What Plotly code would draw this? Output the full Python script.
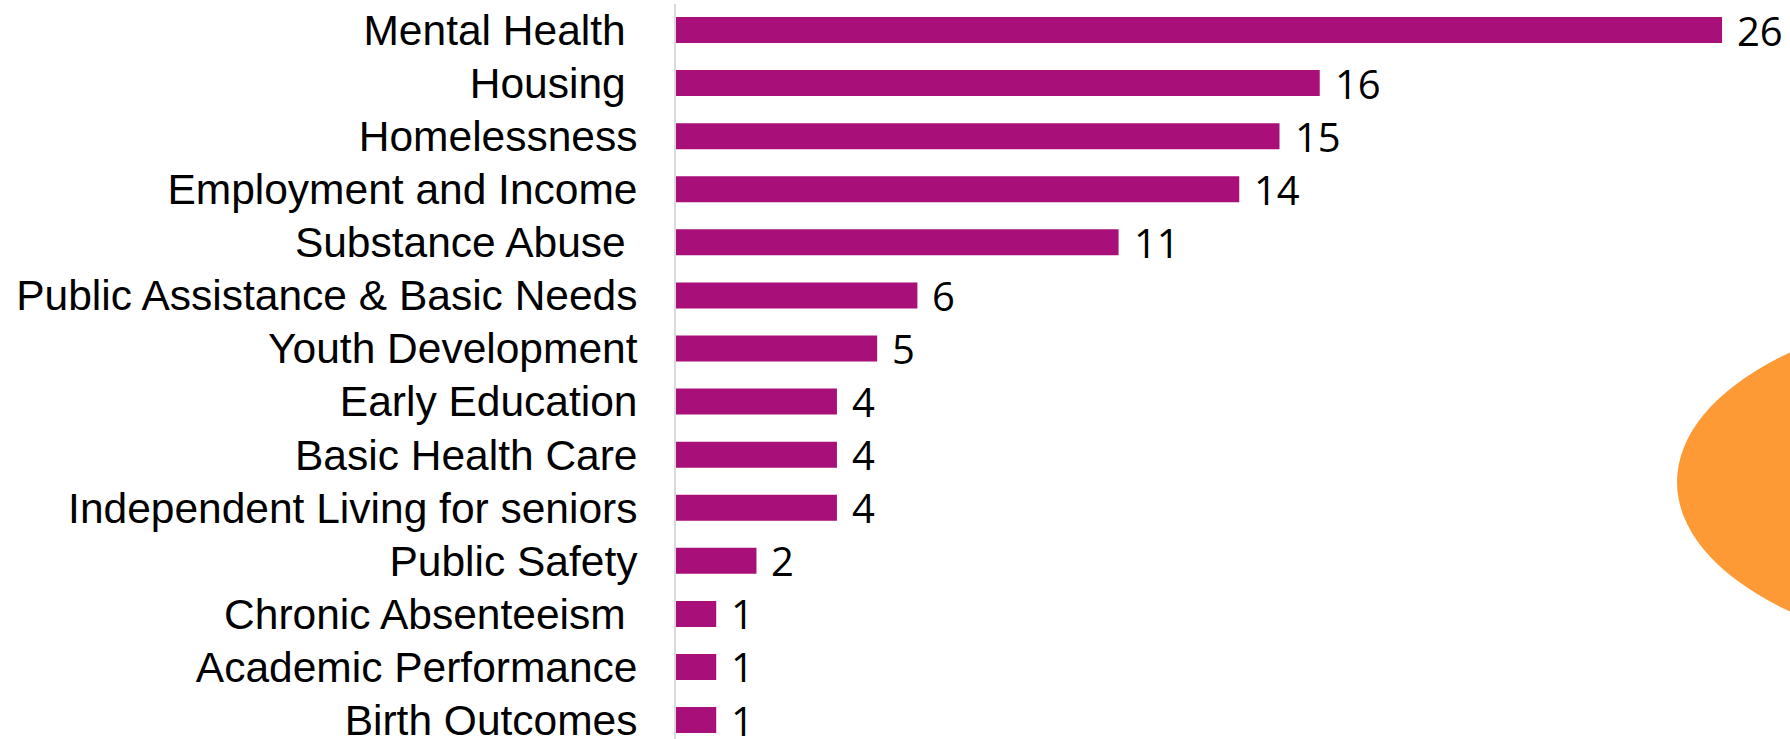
import plotly.graph_objects as go

# Categories (top to bottom) and their counts
categories = [
    "Mental Health ",
    "Housing ",
    "Homelessness",
    "Employment and Income",
    "Substance Abuse ",
    "Public Assistance & Basic Needs",
    "Youth Development",
    "Early Education",
    "Basic Health Care",
    "Independent Living for seniors",
    "Public Safety",
    "Chronic Absenteeism ",
    "Academic Performance",
    "Birth Outcomes",
]
counts = [26, 16, 15, 14, 11, 6, 5, 4, 4, 4, 2, 1, 1, 1]

BAR_COLOR = "#A80F79"
ACCENT = "#FD9A36"

W, H = 1790, 739
ML, MR, MT, MB = 676, 10, 4, 0

# keep trailing spaces visible in the SVG tick labels
tick_text = [c[:-1] + "\u00a0" if c.endswith(" ") else c for c in categories]
idx = list(range(len(categories)))

fig = go.Figure(
    go.Bar(
        x=counts,
        y=idx,
        orientation="h",
        marker=dict(color=BAR_COLOR, line=dict(width=0)),
        width=0.49,
        hoverinfo="skip",
    )
)

# value labels to the right of each bar
for i, v in zip(idx, counts):
    fig.add_annotation(
        x=v, y=i, xref="x", yref="y",
        text=str(v), showarrow=False,
        xanchor="left", yanchor="middle", xshift=13,
        font=dict(family="Open Sans", size=40, color="#000000"),
    )

plot_w = W - ML - MR
plot_h = H - MT - MB

def px_x(p):
    return (p - ML) / plot_w

def px_y(p):
    return 1 - (p - MT) / plot_h

# decorative orange ellipse bleeding off the right edge
fig.add_shape(
    type="circle", xref="paper", yref="paper",
    x0=px_x(1677), x1=px_x(2387), y0=px_y(659), y1=px_y(305),
    fillcolor=ACCENT, line=dict(width=0), layer="below",
)

fig.update_layout(
    width=W, height=H,
    margin=dict(l=ML, r=MR, t=MT, b=MB, pad=0, autoexpand=False),
    paper_bgcolor="white", plot_bgcolor="white",
    showlegend=False,
    xaxis=dict(range=[0, 27.44], visible=False, fixedrange=True,
               automargin=False),
    yaxis=dict(
        range=[13.357, -0.49],
        tickmode="array", tickvals=idx, ticktext=tick_text,
        showgrid=False, zeroline=False, automargin=False,
        showline=True, linecolor="#D9D9D9", linewidth=2,
        ticks="", ticklabelstandoff=28, ticklabeloverflow="allow",
        tickfont=dict(family="Liberation Sans", size=42.5, color="#000000"),
        fixedrange=True,
    ),
)

fig.write_html("out.html")
